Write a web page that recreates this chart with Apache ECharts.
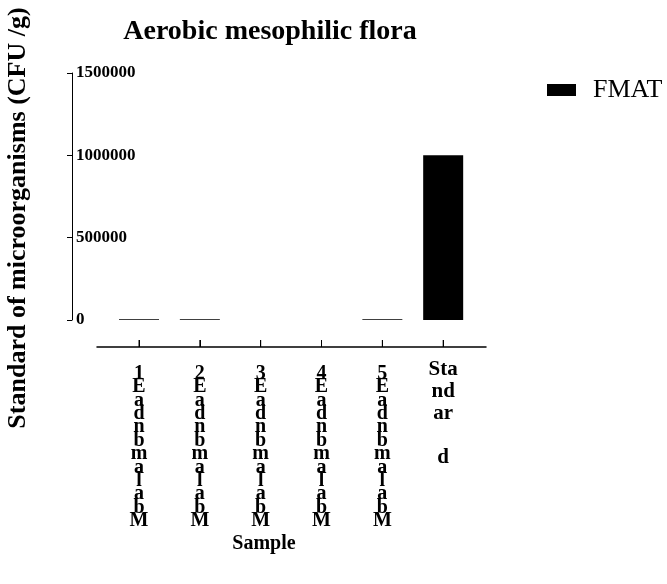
<!DOCTYPE html>
<html>
<head>
<meta charset="utf-8">
<script src="https://cdn.jsdelivr.net/npm/echarts@6/dist/echarts.min.js"></script>
<style>
html,body{margin:0;padding:0;background:#fff;}
#c{width:667px;height:584px;}
</style>
</head>
<body>
<div id="c"></div>
<script>
// ---- data ----
var categories = [
  '1\nE\na\nd\nn\nb\nm\na\nl\na\nb\nM',
  '2\nE\na\nd\nn\nb\nm\na\nl\na\nb\nM',
  '3\nE\na\nd\nn\nb\nm\na\nl\na\nb\nM',
  '4\nE\na\nd\nn\nb\nm\na\nl\na\nb\nM',
  '5\nE\na\nd\nn\nb\nm\na\nl\na\nb\nM',
  'Sta\nnd\nar\n\nd'
];
var fmatValues = [5000, 5000, 0, 0, 5000, 1000000];
var yTicks = [0, 500000, 1000000, 1500000];
// category tick marks (full height of the tick strip for every category)
var categoryTickMarks = [1, 1, 1, 1, 1, 1];
var seriesName = 'FMAT';
var titleText = 'Aerobic mesophilic flora';
var yName = 'Standard of microorganisms (CFU /g)';
var xName = 'Sample';

var FONT = '"Liberation Serif", "Times New Roman", serif';
var chart = echarts.init(document.getElementById('c'), null, {renderer: 'canvas'});

var option = {
  animation: false,
  backgroundColor: '#fff',
  title: {
    text: titleText,
    left: 265,
    top: 13,
    textAlign: 'center',
    textStyle: {fontFamily: FONT, fontWeight: 'bold', fontSize: 28, color: '#000'}
  },
  legend: {
    data: [seriesName],
    left: 547,
    top: 77,
    padding: 0,
    icon: 'rect',
    itemWidth: 29,
    itemHeight: 12,
    textStyle: {fontFamily: FONT, fontSize: 26, color: '#000', padding: [0, 0, 0, 12]}
  },
  grid: [
    // plotting area (bars + y axis)
    {left: 108.6, width: 365, top: 73, bottom: 264, containLabel: false},
    // long x axis baseline
    {left: 97, width: 389, top: 300, bottom: 237, containLabel: false},
    // category ticks + labels, same horizontal extent as the plotting area, 7 px tall
    {left: 108.6, width: 365, top: 340, bottom: 237, containLabel: false}
  ],
  xAxis: [
    {
      type: 'category',
      gridIndex: 0,
      data: categories,
      show: false
    },
    {
      type: 'value',
      gridIndex: 1,
      axisLine: {show: true, lineStyle: {color: '#000', width: 1.5}},
      axisTick: {show: false},
      axisLabel: {show: false},
      splitLine: {show: false}
    },
    {
      type: 'category',
      gridIndex: 2,
      data: categories,
      axisLine: {show: false},
      axisTick: {show: true, inside: true, length: 7, alignWithLabel: true, interval: 0, lineStyle: {color: '#000', width: 1}},
      splitLine: {show: false},
      axisLabel: {
        margin: 12,
        interval: 0,
        formatter: function (v, i) {
          return i === categories.length - 1 ? '{s|' + v + '}' : '{g| }\n{n|' + v + '}';
        },
        rich: {
          g: {fontSize: 4, lineHeight: 8},
          n: {fontFamily: FONT, fontWeight: 'bold', fontSize: 20, color: '#000', lineHeight: 13.4},
          s: {fontFamily: FONT, fontWeight: 'bold', fontSize: 21, color: '#000', lineHeight: 22}
        }
      }
    }
  ],
  yAxis: [
    {
      type: 'value',
      gridIndex: 0,
      min: yTicks[0],
      max: yTicks[yTicks.length - 1],
      interval: yTicks[1] - yTicks[0],
      offset: 36.6,
      axisLine: {show: true, onZero: false, lineStyle: {color: '#000', width: 1}},
      axisTick: {show: true, inside: false, length: 5, lineStyle: {color: '#000'}},
      axisLabel: {
        inside: true, margin: 4, fontFamily: FONT, fontWeight: 'bold', fontSize: 17, color: '#000',
        formatter: function (v) { return String(v); }
      },
      splitLine: {show: false}
    },
    {type: 'value', gridIndex: 1, show: false, min: 0, max: 1},
    {type: 'value', gridIndex: 2, show: false, min: 0, max: 1}
  ],
  graphic: [
    {
      type: 'text',
      x: 18,
      y: 218,
      rotation: Math.PI / 2,
      style: {
        text: yName,
        fontFamily: FONT, fontWeight: 'bold', fontSize: 26, fill: '#000',
        textAlign: 'center', textVerticalAlign: 'middle'
      }
    },
    {
      type: 'text',
      x: 264,
      y: 544,
      style: {
        text: xName,
        fontFamily: FONT, fontWeight: 'bold', fontSize: 20, fill: '#000',
        textAlign: 'center', textVerticalAlign: 'middle'
      }
    }
  ],
  series: [
    {
      name: seriesName,
      type: 'bar',
      xAxisIndex: 0,
      yAxisIndex: 0,
      data: fmatValues,
      barWidth: 40,
      itemStyle: {color: '#000'}
    },
    {
      name: 'categoryTicks',
      type: 'bar',
      xAxisIndex: 2,
      yAxisIndex: 2,
      data: categoryTickMarks,
      barWidth: 1,
      silent: true,
      itemStyle: {color: '#000'}
    }
  ]
};
chart.setOption(option);
</script>
</body>
</html>
